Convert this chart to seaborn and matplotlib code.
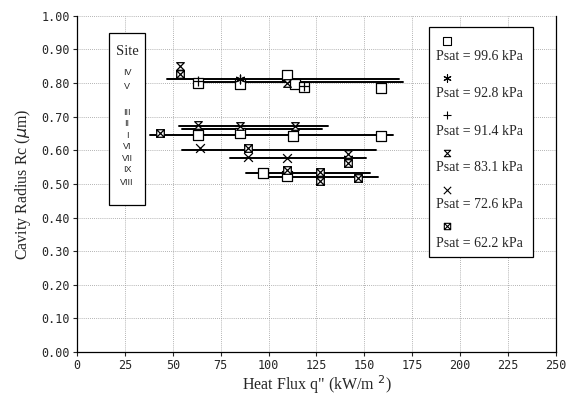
import matplotlib
matplotlib.use("Agg")
import matplotlib.pyplot as plt
import seaborn as sns
import numpy as np
from matplotlib.path import Path
from matplotlib.patches import Rectangle

# Messpunkte je Saettigungsdruck (Heat flux q" in kW/m2, Cavity radius in um)
pressure_labels = ["Psat = 99.6 kPa", "Psat = 92.8 kPa", "Psat = 91.4 kPa",
                   "Psat = 83.1 kPa", "Psat = 72.6 kPa", "Psat = 62.2 kPa"]

q_996 = [63, 85, 109.6, 113.8, 118.5, 158.7, 63, 85, 112.7, 158.7, 97, 109.6]
rc_996 = [0.800, 0.797, 0.824, 0.797, 0.789, 0.786, 0.646, 0.652, 0.643, 0.643, 0.532, 0.524]

q_928 = [85, 141.4]
rc_928 = [0.812, 0.578]

q_914 = [63, 118.5]
rc_914 = [0.806, 0.792]

q_831 = [53.8, 109.6, 63, 85, 113.8, 141.4]
rc_831 = [0.850, 0.800, 0.675, 0.672, 0.672, 0.590]

q_726 = [64, 89, 109.6]
rc_726 = [0.607, 0.580, 0.578]

q_622 = [43.3, 53.8, 89, 109.6, 127, 127, 141.4, 146.7]
rc_622 = [0.652, 0.828, 0.607, 0.542, 0.536, 0.510, 0.563, 0.518]

# Site-Linien (konstanter Radius ueber einen Heat-Flux-Bereich)
site_names = ["IV", "V", "III", "II", "I", "VI", "VII", "IX", "VIII"]
site_q_start = [47, 62, 53, 55, 38, 55, 80, 88, 100]
site_q_end = [168, 170, 131, 128, 165, 156, 151, 153, 157]
site_rc = [0.812, 0.803, 0.672, 0.664, 0.645, 0.600, 0.576, 0.533, 0.520]
site_label_rc = [0.830, 0.789, 0.712, 0.679, 0.643, 0.610, 0.577, 0.542, 0.503]

x_ticks = np.arange(0, 251, 25)
y_ticks = np.arange(0, 1.001, 0.1)

# eigene Marker: Sanduhr und Kasten mit Kreuz
hourglass = Path([(-1, 1), (1, 1), (-1, -1), (1, -1), (-1, 1)],
                 [Path.MOVETO, Path.LINETO, Path.LINETO, Path.LINETO, Path.CLOSEPOLY])
boxed_x = Path([(-1, -1), (1, -1), (1, 1), (-1, 1), (-1, -1),
                (-1, -1), (1, 1), (-1, 1), (1, -1)],
               [Path.MOVETO, Path.LINETO, Path.LINETO, Path.LINETO, Path.CLOSEPOLY,
                Path.MOVETO, Path.LINETO, Path.MOVETO, Path.LINETO])

series = [
    (q_996, rc_996, "s", 42, True),
    (q_928, rc_928, (6, 2, 0), 40, False),
    (q_914, rc_914, "+", 45, False),
    (q_831, rc_831, hourglass, 30, True),
    (q_726, rc_726, "x", 40, False),
    (q_622, rc_622, boxed_x, 30, True),
]

sns.set_style("ticks")
fig = plt.figure(figsize=(5.69, 3.96), dpi=100)
ax = fig.add_axes([0.1353, 0.111, 0.8418, 0.849])

# Site-Linien
for x0, x1, r in zip(site_q_start, site_q_end, site_rc):
    sns.lineplot(x=[x0, x1], y=[r, r], color="black", linewidth=1.4, ax=ax, zorder=2)

# Messpunkte
for q, rc, m, s, filled in series:
    if filled:
        sns.scatterplot(x=q, y=rc, marker=m, s=s, color="black", facecolor="white",
                        edgecolor="black", linewidth=0.9, ax=ax, zorder=3)
    else:
        sns.scatterplot(x=q, y=rc, marker=m, s=s, color="black",
                        linewidth=0.9, ax=ax, zorder=3)

ax.set_xlim(0, 250)
ax.set_ylim(0, 1.0)
ax.set_xticks(x_ticks)
ax.set_yticks(y_ticks)
ax.set_xticklabels([f"{v:d}" for v in x_ticks], fontfamily="DejaVu Sans Mono", fontsize=8.5)
ax.set_yticklabels([f"{v:.2f}" for v in y_ticks], fontfamily="DejaVu Sans Mono", fontsize=8.5)
ax.grid(True, color="#9a9a9a", linestyle=(0, (1, 1.5)), linewidth=0.6)
ax.set_axisbelow(True)
ax.tick_params(length=3, width=0.8, pad=2)
ax.spines["top"].set_visible(False)
for sp in ["left", "bottom", "right"]:
    ax.spines[sp].set_color("black")
    ax.spines[sp].set_linewidth(0.9)

ax.set_xlabel('Heat Flux q" (kW/m $^2$)', fontfamily="Liberation Serif", fontsize=11.5, labelpad=1)
ax.set_ylabel(r"Cavity Radius Rc ($\mu$m)", fontfamily="Liberation Serif", fontsize=11.5, labelpad=6)

# Site-Kasten
ax.add_patch(Rectangle((16.7, 0.4375), 18.8, 0.512, facecolor="white", edgecolor="black",
                       linewidth=0.9, zorder=4))
ax.text(26.1, 0.893, "Site", ha="center", va="center", fontfamily="Liberation Serif",
        fontsize=10.5, zorder=5)
for name, r in zip(site_names, site_label_rc):
    ax.text(26.1, r, name, ha="center", va="center", fontfamily="Liberation Sans",
            fontsize=6.5, zorder=5)

# Legende
ax.add_patch(Rectangle((183.7, 0.283), 54.3, 0.684, facecolor="white", edgecolor="black",
                       linewidth=0.9, zorder=4))
leg_marker_rc = [0.926, 0.815, 0.705, 0.592, 0.482, 0.375]
leg_text_rc = [0.878, 0.768, 0.655, 0.548, 0.4375, 0.324]
for (q, rc, m, s, filled), lab, mr, tr in zip(series, pressure_labels, leg_marker_rc, leg_text_rc):
    if filled:
        ax.scatter([193], [mr], marker=m, s=s * 0.7, facecolor="white", edgecolor="black",
                   linewidth=0.8, zorder=5)
    else:
        ax.scatter([193], [mr], marker=m, s=s * 0.7, color="black", linewidth=0.8, zorder=5)
    ax.text(187.5, tr, lab, ha="left", va="center", fontfamily="Liberation Serif",
            fontsize=10, zorder=5)

fig.savefig("out.png", dpi=100)
